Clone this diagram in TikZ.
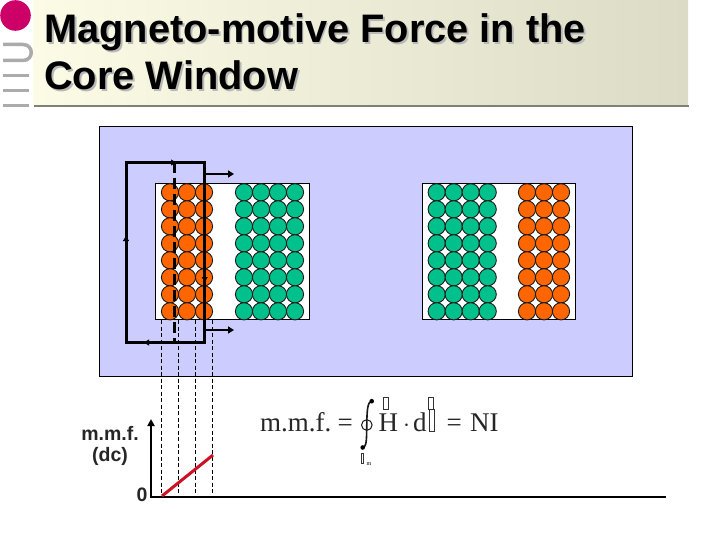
\documentclass[tikz,border=0pt]{standalone}
\usepackage{fontspec}
\setmainfont{Liberation Sans}
\newfontfamily\serifform{Liberation Serif}
\usetikzlibrary{arrows.meta}
\definecolor{panelblue}{HTML}{CCCCFF}
\definecolor{coilorange}{HTML}{FF6600}
\definecolor{coilgreen}{HTML}{00C08C}
\definecolor{logopink}{HTML}{CC0066}
\definecolor{logogrey}{HTML}{ABABAB}
\definecolor{bannerL}{HTML}{FCFCE6}
\definecolor{bannerR}{HTML}{DCDCC6}
\definecolor{bannerline}{HTML}{808078}
\definecolor{redline}{HTML}{CC1122}
\tikzset{
  wire/.style={line width=0.9pt,draw=black!90,fill=#1},
  titletext/.style={font=\fontsize{39.8}{40}\selectfont\bfseries,anchor=base west,inner sep=0pt},
  formula/.style={font=\serifform\fontsize{27}{27}\selectfont,anchor=base west,inner sep=0pt,text=black!85},
  lab/.style={font=\fontsize{19.5}{20}\selectfont\bfseries,inner sep=0pt,text=black!85},
  guide/.style={dash pattern=on 4pt off 2.5pt,line width=0.9pt},
  loopline/.style={line width=3pt},
  flow/.style={line width=2pt,-{Triangle[length=6pt,width=7pt]}},
  midmark/.style={-{Triangle[length=5pt,width=6pt]},line width=0.5pt},
  bar/.style={line width=3.5pt,draw=logogrey},
  tiny/.style={draw=black!80,line width=0.8pt}
}
\begin{document}
\begin{tikzpicture}[x=1pt,y=-1pt]
\useasboundingbox (0,0) rectangle (720,540);
% banner
\shade[left color=bannerL,right color=bannerR] (33,0) rectangle (688,105);
\draw[bannerline,line width=2pt] (34,105.8) -- (689,105.8);
% logo
\fill[logopink] (15.5,15.5) circle (15.3);
\draw[bar] (3,44.5) -- (23,44.5) .. controls (34,44.5) and (34,60.5) .. (23,60.5) -- (3,60.5);
\draw[bar] (3,75.5) -- (29,75.5);
\draw[bar] (3,90.5) -- (29,90.5);
\draw[bar] (3,105.5) -- (29,105.5);
% title
\node[titletext,text=black!28] (titleAs) at (45.8,44.8) {Magneto-motive Force in the};
\node[titletext,text=black!28] (titleBs) at (45.8,91.8) {Core Window};
\node[titletext] (titleA) at (44,43) {Magneto-motive Force in the};
\node[titletext] (titleB) at (44,90) {Core Window};
% panel
\draw[fill=panelblue,line width=0.8pt] (99,126) rectangle (632.5,376);
\draw[fill=white,line width=0.8pt] (155.5,183) rectangle (309.5,319);
\draw[fill=white,line width=0.8pt] (422.5,183) rectangle (575.5,319);
% conductors
\foreach \r in {0,...,7}{
  \foreach \x in {170,187,204,527,544,561}
    \draw[wire=coilorange] (\x,192.3+17*\r) circle (8.6);
  \foreach \x in {244,261,278,295,436.7,453.7,470.7,487.7}
    \draw[wire=coilgreen] (\x,192.3+17*\r) circle (8.6);
}
% guides
\foreach \x in {161.5,178.5,195.5,212.5}
  \draw[guide] (\x,320) -- (\x,498);
% amperian loop
\draw[loopline] (126,162.5) rectangle (204.7,342.5);
\draw[line width=3pt,dash pattern=on 11pt off 5pt] (174.5,162) -- (174.5,342);
\draw[midmark] (168,162.5) -- (176,162.5);
\draw[midmark] (126,243) -- (126,236);
\draw[midmark] (152,342.5) -- (144,342.5);
\draw[midmark] (204.7,272) -- (204.7,282);
\coordinate (fa) at (204.7,174);
\coordinate (fb) at (234,174);
\coordinate (fc) at (204.7,330);
\coordinate (fe) at (234,330);
\draw[flow] (fa) -- (fb);
\draw[flow] (fc) -- (fe);
% plot
\coordinate (orig) at (151,497);
\draw[line width=2.5pt] (orig) -- (666,497);
\draw[line width=2.5pt,-{Triangle[length=7pt,width=7pt]}] (151,498) -- (151,419);
\draw[redline,line width=3pt] (162,496) -- (213,455);
\node[lab] (mmf) at (110,433) {m.m.f.};
\node[lab] (dc) at (110,456) {(dc)};
\node[lab] (zero) at (142,495) {0};
% formula
\node[formula] (fa1) at (260,431.5) {m.m.f.};
\node[formula] (fa2) at (337.5,431.5) {=};
\node[formula] (fH) at (378.5,431.5) {H};
\node[formula] (fdot) at (403,431.5) {$\cdot$};
\node[formula] (fd2) at (413,431.5) {d};
\node[formula] (feq) at (446.5,431.5) {=};
\node[formula] (fNI) at (470,431.5) {NI};
% closed integral sign
\draw[black!90,line width=1.6pt] (371.7,401) .. controls (367.5,402) and (367,410) .. (366.8,424) .. controls (366.5,438) and (367,447) .. (362.7,447.7);
\fill[black] (371.7,401.2) circle (2.3) (362.7,447.5) circle (2.3);
\draw[black!90,line width=1pt] (366.8,425) circle (5.3);
\draw[tiny] (383.5,397) rectangle (388.5,409);
\draw[tiny] (428,397) rectangle (433,409);
\draw[tiny] (429.5,409.5) rectangle (434.5,431);
\draw[tiny] (361,453) rectangle (363.5,463);
\node[inner sep=0pt,font=\serifform\fontsize{6}{6}\selectfont] (fm) at (369,464.5) {m};
\end{tikzpicture}
\end{document}
